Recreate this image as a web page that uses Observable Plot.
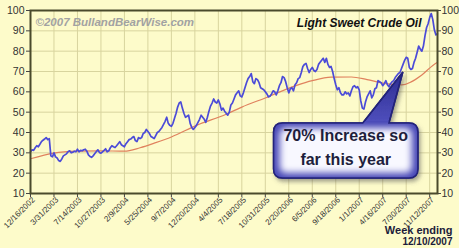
<!DOCTYPE html>
<html>
<head>
<meta charset="utf-8">
<script src="https://cdn.jsdelivr.net/npm/d3@7"></script>
<script src="https://cdn.jsdelivr.net/npm/@observablehq/plot@0.6"></script>
<style>
  html, body { margin: 0; padding: 0; background: #fdfbca; }
  #chart { width: 459px; height: 248px; }
</style>
</head>
<body>
<div id="chart"></div>
<script>
// ---- Data (weekly, week 0 = week ending 12/16/2002) ----
const title = "Light Sweet Crude Oil";
const watermark = "\u00A92007 BullandBearWise.com";
const footer1 = "Week ending";
const footer2 = "12/10/2007";

const prices = [
  30.5, 31.5, 31.2,
  32.5, 33.5, 33.0, 34.2,
  35.5, 36.2, 36.8, 37.5,
  36.5, 37.0, 28.5, 28.0, 30.0,
  28.0, 27.5, 26.2, 25.8,
  27.0, 28.5, 29.0, 29.5,
  30.5, 31.0, 30.0, 30.3, 30.8,
  30.5, 31.8, 30.5, 31.2,
  31.0, 31.5, 31.8, 30.8,
  29.0, 28.2, 27.8, 28.5, 29.5,
  30.5, 31.5, 30.2, 29.8,
  30.5, 31.2, 32.0, 30.5,
  31.0, 32.5, 33.5, 33.0, 32.6,
  33.5, 34.5, 35.5, 34.0,
  33.5, 33.0, 34.5, 35.5,
  36.5, 36.8, 37.5, 38.0, 36.0,
  35.5, 37.5, 37.0, 37.5,
  39.5, 40.0, 41.5, 40.5,
  39.5, 38.0, 37.5, 37.0,
  38.5, 40.0, 40.5, 41.5, 42.5,
  44.0, 45.5, 47.5, 44.5,
  43.5, 43.0, 44.5, 47.0,
  49.5, 52.5, 54.5, 55.0, 52.0,
  49.5, 47.5, 48.0, 48.5,
  44.5, 42.5, 41.5, 42.5, 43.5,
  45.0, 46.5, 48.5, 47.5,
  46.5, 45.0, 47.5, 50.5,
  53.0, 54.5, 56.5, 55.0, 54.5,
  56.0, 54.0, 51.0, 52.0,
  50.5, 49.5, 48.5, 50.0,
  53.5, 54.5, 56.5, 58.5, 59.5,
  60.5, 58.0, 57.5, 59.5,
  62.0, 64.5, 66.5, 67.5,
  69.0, 65.0, 64.0, 66.5, 66.0,
  64.5, 62.0, 61.5, 61.0,
  60.0, 59.0, 57.5, 57.8,
  59.0, 60.5, 60.0, 58.5, 60.5,
  63.0, 64.5, 67.5, 67.0,
  65.0, 62.0, 59.5, 61.5,
  62.0, 60.5, 63.5, 64.5, 66.5,
  67.0, 69.5, 72.5, 73.5,
  74.0, 71.5, 69.5, 71.0,
  72.0, 70.5, 70.0, 71.0, 73.5,
  74.5, 75.5, 76.5, 74.5,
  76.5, 73.5, 72.0, 72.5,
  70.0, 66.5, 63.5, 61.0, 62.0,
  59.5, 58.5, 58.5, 60.0,
  59.0, 59.5, 58.0, 60.5,
  62.5, 63.0, 62.0, 62.5,
  61.0, 55.5, 52.0, 51.5, 55.0,
  57.5, 59.0, 60.5, 57.0, 58.5, 61.5, 62.0, 65.5, 65.0,
  64.5, 63.0, 64.0, 65.5,
  63.5, 62.5, 64.0, 65.0,
  65.5, 67.0, 68.0, 69.0, 69.5,
  71.5, 73.5, 75.5, 77.0,
  76.5, 72.0, 71.0, 71.5,
  74.5, 76.5, 79.5, 82.5, 81.0,
  80.0, 82.5, 87.5, 91.5,
  93.5, 96.5, 98.5, 95.5,
  90.5, 88.0, 88.5
];

// moving average, read at selected weeks
const maWeeks  = [0, 15, 30, 45, 60, 70, 80, 90, 106, 125, 135, 150, 170, 180, 192, 205, 215, 225, 237, 250, 257, 260];
const maValues = [27.1, 29.9, 30.8, 31.0, 30.8, 32.5, 35.0, 37.8, 43.5, 49.0, 52.5, 57.0, 63.2, 65.5, 67.2, 67.3, 66.0, 64.3, 63.4, 68.3, 73.0, 74.5];

const tickWeeks  = [0, 15, 30, 45, 60, 75, 90, 105, 120, 135, 150, 165, 180, 195, 210, 225, 240, 255];
const tickLabels = ["12/16/2002","3/31/2003","7/14/2003","10/27/2003","2/9/2004","5/25/2004","9/7/2004","12/20/2004",
                    "4/4/2005","7/18/2005","10/31/2005","2/20/2006","6/5/2006","9/18/2006","1/1/2007","4/16/2007",
                    "7/30/2007","11/12/2007"];
const yTicks = [10, 20, 30, 40, 50, 60, 70, 80, 90, 100];

const calloutLines = ["70% Increase so", "far this year"];

// ---- Build tables ----
const priceData = prices.map((v, i) => ({week: i, value: v}));
const maData = maWeeks.map((w, i) => ({week: w, value: maValues[i]}));

const font = "Liberation Sans, Arial, Helvetica, sans-serif";
const axisColor = "#333";
const gridColor = "#d8d49e";

const plot = Plot.plot({
  width: 459,
  height: 248,
  marginLeft: 30,
  marginRight: 22,
  marginTop: 10,
  marginBottom: 55,
  style: {background: "#fdfbca", fontFamily: font, color: axisColor, overflow: "visible"},
  x: {domain: [0, prices.length - 1]},
  y: {domain: [10, 100]},
  marks: [
    Plot.gridX(tickWeeks, {stroke: gridColor, strokeOpacity: 1, strokeWidth: 1}),
    Plot.gridY(yTicks, {stroke: gridColor, strokeOpacity: 1, strokeWidth: 1}),
    Plot.axisY(yTicks, {anchor: "left", label: null, tickSize: 4, tickPadding: 2, fontSize: 10.5, stroke: "#444"}),
    Plot.axisY(yTicks, {anchor: "right", label: null, tickSize: 3, tickPadding: 1, fontSize: 10.5, stroke: "#444"}),
    Plot.axisX(tickWeeks, {
      label: null, tickSize: 4, stroke: "#444", text: null
    }),
    Plot.axisX(tickWeeks, {
      label: null, tickSize: 4, tickPadding: 1, fontSize: 8, tickRotate: -45, dx: 3, stroke: null,
      tickFormat: d => tickLabels[tickWeeks.indexOf(d)]
    }),
    Plot.line(maData, {x: "week", y: "value", stroke: "#e0825e", strokeWidth: 1.2, curve: "monotone-x"}),
    Plot.line(priceData, {x: "week", y: "value", stroke: "#4b4bd8", strokeWidth: 1.7}),
    Plot.frame({stroke: "#4a4a2c", strokeWidth: 2}),
    Plot.text([watermark], {frameAnchor: "top-left", dx: 5, dy: 7, textAnchor: "start", fontSize: 11.5,
      fontWeight: "bold", fontStyle: "italic", fill: "#a2a2a2"}),
    Plot.text([title], {frameAnchor: "top-right", dx: -16, dy: 8, textAnchor: "end", fontSize: 12,
      fontWeight: "bold", fontStyle: "italic", fill: "#111"}),
    Plot.text([footer1], {frameAnchor: "bottom-right", dx: 15, dy: 40, textAnchor: "end", fontSize: 11,
      fontWeight: "bold", fill: "#1c1c3a"}),
    Plot.text([footer2], {frameAnchor: "bottom-right", dx: 15, dy: 51, textAnchor: "end", fontSize: 10,
      fontWeight: "bold", fill: "#1c1c3a"})
  ]
});

document.getElementById("chart").appendChild(plot);

// ---- Callout bubble, placed through the chart's scales ----
const sx = plot.scale("x"), sy = plot.scale("y");
const box = {w1: 155.6, w2: 247.8, v1: 44.4, v2: 17.4, b1: 212.6, b2: 229.3, tipW: 238.2, tipV: 69.5};
const x1 = sx.apply(box.w1), x2 = sx.apply(box.w2);
const y1 = sy.apply(box.v1), y2 = sy.apply(box.v2);
const bx1 = sx.apply(box.b1), bx2 = sx.apply(box.b2);
const tx = sx.apply(box.tipW), ty = sy.apply(box.tipV);
const r = 9;

const svg = d3.select(plot);
const defs = svg.append("defs");
const shadow = defs.append("filter").attr("id", "bshadow").attr("x", "-10%").attr("y", "-10%").attr("width", "130%").attr("height", "140%");
shadow.append("feDropShadow").attr("dx", 2).attr("dy", 3).attr("stdDeviation", 2)
  .attr("flood-color", "#555").attr("flood-opacity", 0.55);
const blur = defs.append("filter").attr("id", "bglow").attr("x", "-20%").attr("y", "-40%").attr("width", "140%").attr("height", "180%");
blur.append("feGaussianBlur").attr("stdDeviation", 3.5);
const ptrGrad = defs.append("linearGradient").attr("id", "ptrg").attr("x1", 0).attr("y1", 0).attr("x2", 0).attr("y2", 1);
ptrGrad.append("stop").attr("offset", "0%").attr("stop-color", "#2c2c90");
ptrGrad.append("stop").attr("offset", "60%").attr("stop-color", "#5858c8");
ptrGrad.append("stop").attr("offset", "100%").attr("stop-color", "#7a7ad8");

const bubble = `M${x1 + r},${y1} L${bx1},${y1} L${tx},${ty} L${bx2},${y1} L${x2 - r},${y1} Q${x2},${y1} ${x2},${y1 + r}
  L${x2},${y2 - r} Q${x2},${y2} ${x2 - r},${y2} L${x1 + r},${y2} Q${x1},${y2} ${x1},${y2 - r}
  L${x1},${y1 + r} Q${x1},${y1} ${x1 + r},${y1} Z`;
defs.append("clipPath").attr("id", "bclip").append("path").attr("d", bubble);

const g = svg.append("g");
g.append("path").attr("d", bubble).attr("fill", "url(#ptrg)").attr("stroke", "#23237a").attr("stroke-width", 1.5)
  .attr("filter", "url(#bshadow)");
g.append("rect").attr("x", x1 - 2).attr("y", y1 - 2).attr("width", x2 - x1 + 4).attr("height", y2 - y1 + 4)
  .attr("rx", r).attr("fill", "#4646b6").attr("clip-path", "url(#bclip)");
g.append("g").attr("clip-path", "url(#bclip)")
  .append("rect").attr("x", x1 + 6).attr("y", y1 + 5).attr("width", x2 - x1 - 12).attr("height", y2 - y1 - 10)
  .attr("rx", 6).attr("fill", "#f8f8ff").attr("filter", "url(#bglow)");
g.append("path").attr("d", bubble).attr("fill", "none").attr("stroke", "#23237a").attr("stroke-width", 1.5);
const cx = (x1 + x2) / 2;
calloutLines.forEach((t, i) => {
  g.append("text").attr("x", cx).attr("y", y1 + 12 + i * 24).attr("dy", "0.35em")
    .attr("text-anchor", "middle").attr("font-family", font).attr("font-weight", "bold")
    .attr("font-size", 16).attr("fill", "#1e1e3c").text(t);
});
</script>
</body>
</html>
